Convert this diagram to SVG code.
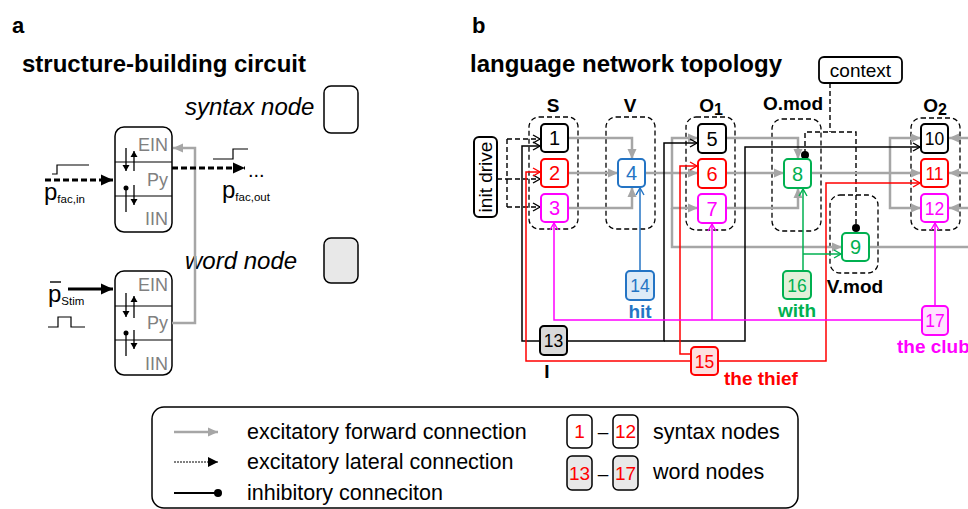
<svg xmlns="http://www.w3.org/2000/svg" width="968" height="509" viewBox="0 0 968 509">
<style>
text{font-family:"Liberation Sans",Arial,sans-serif;}
.title{font-size:24px;font-weight:bold;fill:#000;}
.panel{font-size:22px;font-weight:bold;fill:#000;}
.it{font-size:24px;font-style:italic;fill:#000;}
.layer{font-size:18px;fill:#808080;text-anchor:end;}
.box{fill:#fff;stroke:#000;stroke-width:1.5;}
.grp{fill:none;stroke:#000;stroke-width:1.3;stroke-dasharray:5 3;}
.num{font-size:20px;text-anchor:middle;}
.num2{font-size:17.5px;text-anchor:middle;}
.lbl{font-size:19px;font-weight:bold;text-anchor:middle;}
.nd{stroke-width:2;}
.gray{fill:none;stroke:#a6a6a6;stroke-width:2.5;marker-end:url(#aGray);}
.thin{fill:none;stroke-width:1.5;}
.leg{font-size:21.5px;fill:#000;}
.lnum{font-size:19px;fill:#ff0000;text-anchor:middle;}
</style>
<defs>
<marker id="aGray" markerUnits="userSpaceOnUse" markerWidth="12" markerHeight="10" refX="10" refY="4.5" orient="auto" overflow="visible"><path d="M0,0 L10,4.5 L0,9 z" fill="#a6a6a6"/></marker>
<marker id="aBlk" markerUnits="userSpaceOnUse" markerWidth="10" markerHeight="10" refX="7" refY="4" orient="auto" overflow="visible"><path d="M0,0 L7,4 L0,8" fill="none" stroke="#000" stroke-width="1.4"/></marker>
<marker id="aRed" markerUnits="userSpaceOnUse" markerWidth="10" markerHeight="10" refX="7" refY="4" orient="auto" overflow="visible"><path d="M0,0 L7,4 L0,8" fill="none" stroke="#ff0000" stroke-width="1.4"/></marker>
<marker id="aBlue" markerUnits="userSpaceOnUse" markerWidth="10" markerHeight="10" refX="7" refY="4" orient="auto" overflow="visible"><path d="M0,0 L7,4 L0,8" fill="none" stroke="#2474c4" stroke-width="1.4"/></marker>
<marker id="aGrn" markerUnits="userSpaceOnUse" markerWidth="10" markerHeight="10" refX="7" refY="4" orient="auto" overflow="visible"><path d="M0,0 L7,4 L0,8" fill="none" stroke="#00b050" stroke-width="1.4"/></marker>
<marker id="aMag" markerUnits="userSpaceOnUse" markerWidth="10" markerHeight="10" refX="7" refY="4" orient="auto" overflow="visible"><path d="M0,0 L7,4 L0,8" fill="none" stroke="#ff00ff" stroke-width="1.4"/></marker>
<marker id="aFill" markerUnits="userSpaceOnUse" markerWidth="14" markerHeight="12" refX="12" refY="5.5" orient="auto" overflow="visible"><path d="M0,0 L12,5.5 L0,11 z" fill="#000"/></marker>
<marker id="aSmall" markerUnits="userSpaceOnUse" markerWidth="10" markerHeight="10" refX="6" refY="3.5" orient="auto" overflow="visible"><path d="M0,0 L6,3.5 L0,7 z" fill="#000"/></marker>
<marker id="aLeg" markerUnits="userSpaceOnUse" markerWidth="12" markerHeight="12" refX="10" refY="5" orient="auto" overflow="visible"><path d="M0,0 L10,5 L0,10 z" fill="#000"/></marker>
</defs>
<rect width="968" height="509" fill="#fff"/>

<!-- ============ Panel a ============ -->
<g id="panel-a">
<text class="panel" x="12" y="33">a</text>
<text class="title" x="22" y="72">structure-building circuit</text>
<text class="it" x="185" y="115">syntax node</text>
<text class="it" x="185" y="269">word node</text>
<g id="legend-syntax-node"><rect class="box" x="324" y="86" width="34" height="47" rx="7"/></g>
<g id="legend-word-node"><rect class="box" x="324" y="238" width="34" height="45" rx="7" style="fill:#e8e8e8"/></g>

<g id="circuit-syntax">
<rect class="box" x="115" y="127" width="57" height="105" rx="9"/>
<line x1="115" y1="162" x2="172" y2="162" stroke="#000" stroke-width="1.2"/>
<line x1="115" y1="196" x2="172" y2="196" stroke="#000" stroke-width="1.2"/>
<text class="layer" x="168" y="151">EIN</text>
<text class="layer" x="168" y="186">Py</text>
<text class="layer" x="168" y="225">IIN</text>
<line x1="126" y1="148" x2="126" y2="171" stroke="#000" stroke-width="1.3" marker-end="url(#aSmall)"/>
<line x1="134" y1="171" x2="134" y2="151" stroke="#000" stroke-width="1.3" marker-end="url(#aSmall)"/>
<line x1="126" y1="188" x2="126" y2="212" stroke="#000" stroke-width="1.3"/>
<circle cx="126" cy="188" r="2.5" fill="#000"/>
<line x1="134" y1="185" x2="134" y2="205" stroke="#000" stroke-width="1.3" marker-end="url(#aSmall)"/>
</g>

<g id="circuit-word">
<rect class="box" x="115" y="271" width="57" height="104" rx="9"/>
<line x1="115" y1="306" x2="172" y2="306" stroke="#000" stroke-width="1.2"/>
<line x1="115" y1="340" x2="172" y2="340" stroke="#000" stroke-width="1.2"/>
<text class="layer" x="168" y="291">EIN</text>
<text class="layer" x="168" y="329">Py</text>
<text class="layer" x="168" y="370">IIN</text>
<line x1="126" y1="293" x2="126" y2="317" stroke="#000" stroke-width="1.3" marker-end="url(#aSmall)"/>
<line x1="134" y1="318" x2="134" y2="296" stroke="#000" stroke-width="1.3" marker-end="url(#aSmall)"/>
<line x1="126" y1="333" x2="126" y2="356" stroke="#000" stroke-width="1.3"/>
<circle cx="126" cy="333" r="2.5" fill="#000"/>
<line x1="134" y1="330" x2="134" y2="349" stroke="#000" stroke-width="1.3" marker-end="url(#aSmall)"/>
</g>

<g id="panel-a-connectors">
<path d="M172,323 H195 V148 H173" fill="none" stroke="#a6a6a6" stroke-width="2.5" marker-end="url(#aGray)"/>
<line x1="45" y1="180" x2="113" y2="180" stroke="#000" stroke-width="3" stroke-dasharray="6 3" marker-end="url(#aFill)"/>
<line x1="172" y1="168" x2="245" y2="168" stroke="#000" stroke-width="3" stroke-dasharray="6 3" marker-end="url(#aFill)"/>
<line x1="68" y1="289" x2="113" y2="289" stroke="#000" stroke-width="3" marker-end="url(#aFill)"/>
<path d="M52,174 H57 V165 H89" fill="none" stroke="#000" stroke-width="1.2"/>
<path d="M213,159 H233 V149 H248" fill="none" stroke="#000" stroke-width="1.2"/>
<path d="M48,327 H58 V317 H71 V327 H85" fill="none" stroke="#000" stroke-width="1.2"/>
</g>
<text x="44" y="200" font-size="24">p<tspan font-size="11.5" dy="3">fac,in</tspan></text>
<text x="222" y="198" font-size="24">p<tspan font-size="11.5" dy="3">fac,out</tspan></text>
<text x="248" y="177" font-size="20">...</text>
<text x="48" y="302" font-size="24">p<tspan font-size="11.5" dy="3">Stim</tspan></text>
<line x1="50" y1="282" x2="61" y2="282" stroke="#000" stroke-width="1.4"/>
</g>

<!-- ============ Panel b ============ -->
<text class="panel" x="472" y="33">b</text>
<text class="title" x="470" y="72">language network topology</text>

<g id="groups">
<rect class="grp" x="529" y="117" width="49" height="112" rx="10"/>
<rect class="grp" x="606" y="117" width="49" height="112" rx="10"/>
<rect class="grp" x="686" y="117" width="49" height="113" rx="10"/>
<rect class="grp" x="772" y="119" width="49" height="112" rx="10"/>
<rect class="grp" x="830" y="195" width="48" height="78" rx="10"/>
<rect class="grp" x="911" y="118" width="49" height="112" rx="10"/>
<text class="lbl" x="553" y="112">S</text>
<text class="lbl" x="630" y="112">V</text>
<text class="lbl" x="711" y="112">O<tspan font-size="16" dy="3">1</tspan></text>
<text class="lbl" x="793" y="110">O.mod</text>
<text class="lbl" x="855" y="293">V.mod</text>
<text class="lbl" x="935" y="112">O<tspan font-size="16" dy="3">2</tspan></text>
</g>

<g id="connectors">
<!-- init drive lateral -->
<path d="M497,179 H507 M507,139 V207" fill="none" stroke="#000" stroke-width="1.4" stroke-dasharray="5 3"/>
<path d="M507,139 H540" fill="none" stroke="#000" stroke-width="1.4" stroke-dasharray="5 3" marker-end="url(#aBlk)"/>
<path d="M507,179 H540" fill="none" stroke="#000" stroke-width="1.4" stroke-dasharray="5 3" marker-end="url(#aBlk)"/>
<path d="M507,207 H540" fill="none" stroke="#000" stroke-width="1.4" stroke-dasharray="5 3" marker-end="url(#aBlk)"/>
<!-- context inhibition -->
<path d="M830,83 V132 M805,154 V132 H856 V227" fill="none" stroke="#000" stroke-width="1.4" stroke-dasharray="5 3"/>
<circle cx="805" cy="155" r="4" fill="#000"/>
<circle cx="856" cy="228" r="4" fill="#000"/>
<!-- gray forward -->
<path class="gray" d="M568,138 H632 V159"/>
<path class="gray" d="M568,173 H618"/>
<path class="gray" d="M568,208 H632 V187"/>
<path class="gray" d="M645,173 H698"/>
<path class="gray" d="M672,173 V138 H698"/>
<path class="gray" d="M672,173 V208 H698"/>
<path class="gray" d="M672,208 V247 H842"/>
<path class="gray" d="M726,138 H798 V159"/>
<path class="gray" d="M726,173 H784"/>
<path class="gray" d="M726,208 H798 V188"/>
<path class="gray" d="M811,173 H921"/>
<path class="gray" d="M890,173 V138 H921"/>
<path class="gray" d="M890,173 V208 H921"/>
<path d="M869,247 H968" fill="none" stroke="#a6a6a6" stroke-width="2.5"/>
<path class="gray" d="M970,138 H949"/>
<path class="gray" d="M970,173 H949"/>
<path class="gray" d="M970,208 H949"/>
<!-- black (13: I) -->
<path class="thin" stroke="#000" d="M540,341 H522 V146 H540" marker-end="url(#aBlk)"/>
<path class="thin" stroke="#000" d="M567,341 H664 V143 H697" marker-end="url(#aBlk)"/>
<path class="thin" stroke="#000" d="M664,341 H745 V147 H920" marker-end="url(#aBlk)"/>
<!-- red (15: the thief) -->
<path class="thin" stroke="#ff0000" d="M691,361 H526 V172 H540" marker-end="url(#aRed)"/>
<path class="thin" stroke="#ff0000" d="M691,354 H680 V166 H697" marker-end="url(#aRed)"/>
<path class="thin" stroke="#ff0000" d="M718,361 H826 V183 H920" marker-end="url(#aRed)"/>
<!-- blue (14: hit) -->
<path class="thin" stroke="#2474c4" d="M640,271 V188" marker-end="url(#aBlue)"/>
<!-- green (16: with) -->
<path class="thin" stroke="#00b050" d="M803,271 V189" marker-end="url(#aGrn)"/>
<path class="thin" stroke="#00b050" d="M803,254 H841" marker-end="url(#aGrn)"/>
<!-- magenta (17: the club) -->
<path class="thin" stroke="#ff00ff" d="M922,320 H554 V223" marker-end="url(#aMag)"/>
<path class="thin" stroke="#ff00ff" d="M712,320 V224" marker-end="url(#aMag)"/>
<path class="thin" stroke="#ff00ff" d="M935,306 V223" marker-end="url(#aMag)"/>
</g>

<g id="init-drive"><rect class="box" x="474" y="137" width="23" height="80" rx="5" style="stroke-width:2"/><text x="491.5" y="177" font-size="19" text-anchor="middle" transform="rotate(-90 491.5 177)">init drive</text></g>
<g id="context"><rect class="box" x="819" y="57" width="83" height="26" rx="5" style="stroke-width:1.8"/><text x="860.5" y="77" font-size="19" text-anchor="middle">context</text></g>

<g id="n1"><rect class="box nd" x="541" y="124" width="27" height="28" rx="4"/><text class="num" x="554.5" y="145">1</text></g>
<g id="n2"><rect class="box nd" x="541" y="159" width="27" height="28" rx="4" style="stroke:#ff0000"/><text class="num" x="554.5" y="180" fill="#ff0000">2</text></g>
<g id="n3"><rect class="box nd" x="541" y="194" width="27" height="28" rx="4" style="stroke:#ff00ff"/><text class="num" x="554.5" y="215" fill="#ff00ff">3</text></g>
<g id="n4"><rect class="box nd" x="618" y="159" width="27" height="28" rx="4" style="stroke:#2474c4"/><text class="num" x="631.5" y="180" fill="#2474c4">4</text></g>
<g id="n5"><rect class="box nd" x="698" y="124" width="28" height="29" rx="4"/><text class="num" x="712" y="145.5">5</text></g>
<g id="n6"><rect class="box nd" x="698" y="159" width="28" height="29" rx="4" style="stroke:#ff0000"/><text class="num" x="712" y="180.5" fill="#ff0000">6</text></g>
<g id="n7"><rect class="box nd" x="698" y="194" width="28" height="29" rx="4" style="stroke:#ff00ff"/><text class="num" x="712" y="215.5" fill="#ff00ff">7</text></g>
<g id="n8"><rect class="box nd" x="784" y="159" width="27" height="29" rx="4" style="stroke:#00b050"/><text class="num" x="797.5" y="180.5" fill="#00b050">8</text></g>
<g id="n9"><rect class="box nd" x="842" y="233" width="27" height="28" rx="4" style="stroke:#00b050"/><text class="num" x="855.5" y="254" fill="#00b050">9</text></g>
<g id="n10"><rect class="box nd" x="921" y="124" width="27" height="29" rx="4"/><text class="num2" x="934.5" y="144.5">10</text></g>
<g id="n11"><rect class="box nd" x="921" y="159" width="27" height="28" rx="4" style="stroke:#ff0000"/><text class="num2" x="934.5" y="179.5" fill="#ff0000">11</text></g>
<g id="n12"><rect class="box nd" x="921" y="194" width="27" height="28" rx="4" style="stroke:#ff00ff"/><text class="num2" x="934.5" y="214.5" fill="#ff00ff">12</text></g>

<g id="n13"><rect class="box nd" x="540" y="326" width="27" height="29" rx="4" style="fill:#d9d9d9"/><text class="num2" x="553.5" y="347">13</text><text class="lbl" x="547" y="378">I</text></g>
<g id="n14"><rect class="box nd" x="626" y="271" width="28" height="29" rx="4" style="fill:#deebf7;stroke:#2474c4"/><text class="num2" x="640" y="291.5" fill="#2474c4">14</text><text class="lbl" x="640" y="318" fill="#2474c4">hit</text></g>
<g id="n15"><rect class="box nd" x="691" y="347" width="27" height="28" rx="4" style="fill:#fde0e0;stroke:#ff0000"/><text class="num2" x="704.5" y="367.5" fill="#ff0000">15</text><text class="lbl" x="724" y="385" fill="#ff0000" style="text-anchor:start">the thief</text></g>
<g id="n16"><rect class="box nd" x="783" y="271" width="28" height="28" rx="4" style="fill:#e2f0d9;stroke:#00b050"/><text class="num2" x="797" y="291.5" fill="#00b050">16</text><text class="lbl" x="797" y="317" fill="#00b050">with</text></g>
<g id="n17"><rect class="box nd" x="922" y="306" width="26" height="29" rx="4" style="fill:#ffe1ff;stroke:#ff00ff"/><text class="num2" x="935" y="326.5" fill="#ff00ff">17</text><text class="lbl" x="897" y="353" fill="#ff00ff" style="text-anchor:start">the club</text></g>

<!-- ============ Legend ============ -->
<g id="legend">
<rect class="box" x="152" y="407" width="646" height="101" rx="12"/>
<line x1="174" y1="432" x2="218" y2="432" stroke="#a6a6a6" stroke-width="2.5" marker-end="url(#aGray)"/>
<text class="leg" x="247" y="439">excitatory forward connection</text>
<line x1="174" y1="462" x2="218" y2="462" stroke="#000" stroke-width="1" stroke-dasharray="2 1" marker-end="url(#aLeg)"/>
<text class="leg" x="247" y="469">excitatory lateral connection</text>
<line x1="174" y1="493" x2="216" y2="493" stroke="#000" stroke-width="2"/>
<circle cx="218" cy="493" r="4" fill="#000"/>
<text class="leg" x="247" y="500">inhibitory conneciton</text>
<rect class="box" x="567" y="415" width="25" height="33" rx="5"/><text class="lnum" x="579.5" y="438">1</text>
<text class="leg" x="603" y="438" text-anchor="middle" style="font-size:19px">–</text>
<rect class="box" x="613" y="415" width="25" height="33" rx="5"/><text class="lnum" x="625.5" y="438">12</text>
<text class="leg" x="653" y="439">syntax nodes</text>
<rect class="box" x="567" y="456" width="25" height="34" rx="5" style="fill:#e8e8e8"/><text class="lnum" x="579.5" y="480">13</text>
<text class="leg" x="603" y="480" text-anchor="middle" style="font-size:19px">–</text>
<rect class="box" x="613" y="456" width="25" height="34" rx="5" style="fill:#e8e8e8"/><text class="lnum" x="625.5" y="480">17</text>
<text class="leg" x="653" y="479">word nodes</text>
</g>
</svg>
